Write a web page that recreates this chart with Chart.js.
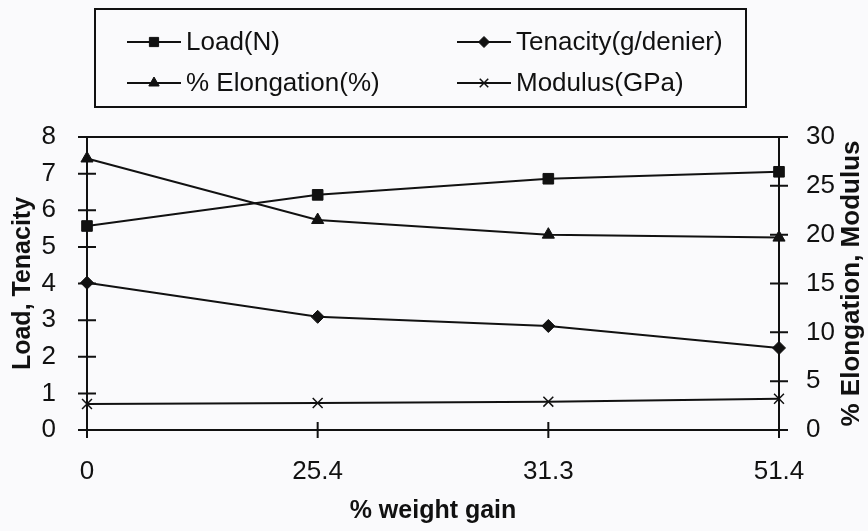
<!DOCTYPE html>
<html>
<head>
<meta charset="utf-8">
<title>Weight gain vs fibre properties</title>
<script src="https://cdn.jsdelivr.net/npm/chart.js@4/dist/chart.umd.min.js"></script>
<style>
  html, body { margin: 0; padding: 0; background: #fafafc; }
  #wrap { width: 868px; height: 531px; }
</style>
</head>
<body>
<div id="wrap"><canvas id="props-chart"></canvas></div>
<script>
// % weight gain categories
const weightGain = ['0', '25.4', '31.3', '51.4'];

// left axis series
const loadN = [5.57, 6.42, 6.86, 7.05];
const tenacity = [4.02, 3.09, 2.84, 2.24];

// right axis series
const elongation = [27.8, 21.5, 20.0, 19.7];
const modulus = [2.66, 2.76, 2.9, 3.2];

const FONT = "'Liberation Sans', Arial, sans-serif";
const INK = '#111';

function series(label, values, axis, style, radius) {
  return {
    label: label,
    data: values,
    yAxisID: axis,
    borderColor: INK,
    backgroundColor: INK,
    borderWidth: 2,
    tension: 0,
    pointStyle: style,
    pointRadius: radius,
    pointBackgroundColor: INK,
    pointBorderColor: INK,
    pointBorderWidth: style === 'crossRot' ? 1.5 : 1
  };
}

// boxed two-column legend, plot frame line, cross tick marks, right title
const decorations = {
  id: 'decorations',
  beforeDraw(chart) {
    const ctx = chart.ctx;
    ctx.save();
    ctx.fillStyle = '#fafafc';
    ctx.fillRect(0, 0, chart.width, chart.height);
    ctx.restore();
  },
  afterDraw(chart) {
    const ctx = chart.ctx;
    const area = chart.chartArea;
    const sx = chart.scales.x, yl = chart.scales.y, yr = chart.scales.y2;
    ctx.save();
    ctx.strokeStyle = INK;
    ctx.lineWidth = 2;

    // top frame line
    ctx.beginPath();
    ctx.moveTo(area.left, area.top);
    ctx.lineTo(area.right, area.top);
    ctx.stroke();

    // tick marks crossing the axes
    ctx.beginPath();
    yl.ticks.forEach(t => {
      const y = yl.getPixelForValue(t.value);
      ctx.moveTo(area.left - 9, y);
      ctx.lineTo(area.left + 9, y);
    });
    yr.ticks.forEach(t => {
      const y = yr.getPixelForValue(t.value);
      ctx.moveTo(area.right - 9, y);
      ctx.lineTo(area.right + 9, y);
    });
    weightGain.forEach((_, i) => {
      const x = sx.getPixelForValue(i);
      ctx.moveTo(x, area.bottom - 8);
      ctx.lineTo(x, area.bottom + 8);
    });
    ctx.stroke();

    // right axis title, reading bottom to top
    ctx.fillStyle = INK;
    ctx.font = 'bold 26px ' + FONT;
    ctx.textAlign = 'center';
    ctx.textBaseline = 'middle';
    ctx.translate(852, (area.top + area.bottom) / 2);
    ctx.rotate(-Math.PI / 2);
    ctx.fillText('% Elongation, Modulus', 0, 0);
    ctx.restore();

    // legend
    ctx.save();
    ctx.strokeStyle = INK;
    ctx.lineWidth = 2;
    ctx.strokeRect(95, 9, 651, 98);
    const cols = [127, 457];
    const rows = [42, 83];
    ctx.font = '26px ' + FONT;
    ctx.textBaseline = 'middle';
    ctx.textAlign = 'left';
    chart.data.datasets.forEach((ds, k) => {
      const x = cols[k % 2];
      const y = rows[Math.floor(k / 2)];
      ctx.strokeStyle = INK;
      ctx.fillStyle = INK;
      ctx.lineWidth = 2;
      ctx.beginPath();
      ctx.moveTo(x, y);
      ctx.lineTo(x + 54, y);
      ctx.stroke();
      ctx.lineWidth = ds.pointBorderWidth;
      Chart.helpers.drawPoint(ctx, {
        pointStyle: ds.pointStyle,
        radius: ds.pointRadius - 1,
        rotation: 0,
        borderWidth: ds.pointBorderWidth
      }, x + 27, y);
      ctx.fillStyle = INK;
      ctx.fillText(ds.label, x + 59, y + 1);
    });
    ctx.restore();
  }
};

const config = {
  type: 'line',
  data: {
    labels: weightGain,
    datasets: [
      series('Load(N)', loadN, 'y', 'rect', 7.5),
      series('Tenacity(g/denier)', tenacity, 'y', 'rectRot', 6.5),
      series('% Elongation(%)', elongation, 'y2', 'triangle', 7),
      series('Modulus(GPa)', modulus, 'y2', 'crossRot', 7)
    ]
  },
  options: {
    responsive: true,
    maintainAspectRatio: false,
    animation: false,
    layout: { padding: { top: 137, left: 0, right: 0, bottom: 0 } },
    plugins: {
      legend: { display: false },
      tooltip: { enabled: false }
    },
    scales: {
      x: {
        type: 'category',
        offset: false,
        grid: { display: false },
        border: { display: true, color: INK, width: 2 },
        ticks: { color: INK, padding: 18, font: { family: FONT, size: 26 }, maxRotation: 0 },
        title: {
          display: true,
          text: '% weight gain',
          color: INK,
          font: { family: FONT, size: 25, weight: 'bold' },
          padding: { top: 0, bottom: 5 }
        },
        afterFit: s => { s.height = 101; }
      },
      y: {
        position: 'left',
        min: 0,
        max: 8,
        grid: { display: false },
        border: { display: true, color: INK, width: 2 },
        ticks: { stepSize: 1, color: INK, padding: 23, font: { family: FONT, size: 26 } },
        title: {
          display: true,
          text: 'Load, Tenacity',
          color: INK,
          font: { family: FONT, size: 25, weight: 'bold' },
          padding: { top: 8, bottom: 0 }
        },
        afterFit: s => { s.width = 87; }
      },
      y2: {
        position: 'right',
        min: 0,
        max: 30,
        grid: { display: false },
        border: { display: true, color: INK, width: 2 },
        ticks: { stepSize: 5, color: INK, padding: 19, font: { family: FONT, size: 26 } },
        afterFit: s => { s.width = 89; }
      }
    }
  },
  plugins: [decorations]
};

let propsChart = new Chart(document.getElementById('props-chart'), config);
</script>
</body>
</html>
